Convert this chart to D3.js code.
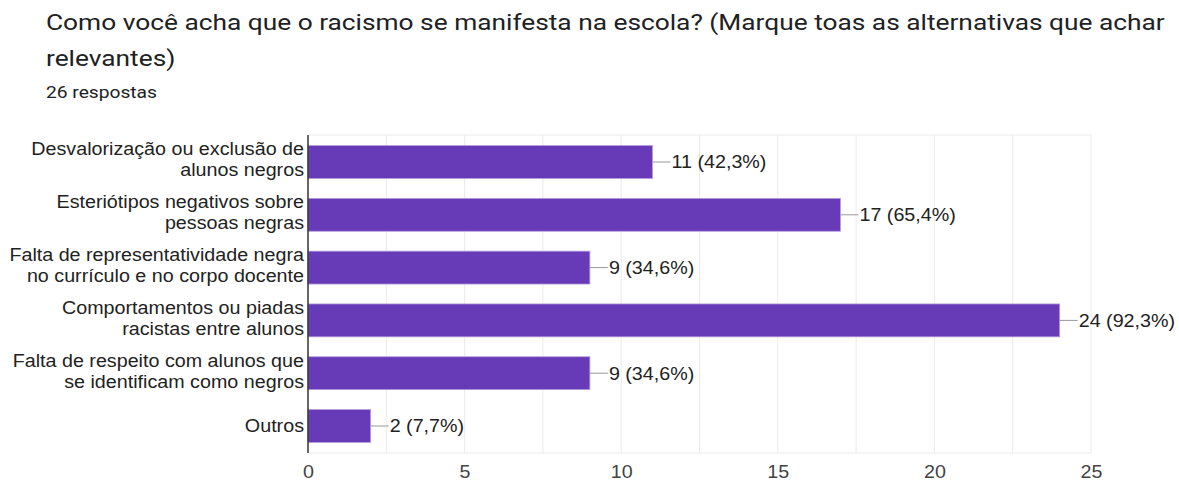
<!DOCTYPE html>
<html>
<head>
<meta charset="utf-8">
<script src="https://d3js.org/d3.v7.min.js"></script>
<style>
  body { margin: 0; background: #fff; }
  text { font-family: "Liberation Sans", Arial, sans-serif; }
</style>
</head>
<body>
<script>
// chart data
const categories = [
  ["Desvalorização ou exclusão de", "alunos negros"],
  ["Esteriótipos negativos sobre", "pessoas negras"],
  ["Falta de representatividade negra", "no currículo e no corpo docente"],
  ["Comportamentos ou piadas", "racistas entre alunos"],
  ["Falta de respeito com alunos que", "se identificam como negros"],
  ["Outros"]
];
const counts = [11, 17, 9, 24, 9, 2];
const percents = ["42,3%", "65,4%", "34,6%", "92,3%", "34,6%", "7,7%"];
const xTicks = [0, 5, 10, 15, 20, 25];
const gridTicks = [2.5, 5, 7.5, 10, 12.5, 15, 17.5, 20, 22.5, 25];

const width = 1179, height = 481;
const svg = d3.select("body").append("svg")
  .attr("width", width)
  .attr("height", height);

// the screenshot is a bit stretched sideways, so text gets a small x-scale
const sx = 1.065;
const fs = "18.5px";

// title
const title = svg.append("text")
  .attr("transform", "translate(46,0) scale(1.195,1)")
  .style("font-family", "Roboto, sans-serif")
  .style("font-size", "22px")
  .attr("fill", "#202124");
title.append("tspan").attr("x", 0).attr("y", 30)
  .text("Como você acha que o racismo se manifesta na escola? (Marque toas as alternativas que achar");
title.append("tspan").attr("x", 0).attr("y", 66)
  .text("relevantes)");

svg.append("text")
  .attr("transform", "translate(46,98) scale(1.2,1)")
  .style("font-family", "Roboto, sans-serif")
  .style("font-size", "16px")
  .attr("fill", "#202124")
  .text("26 respostas");

// scales
const pLeft = 308, pRight = 1091, pTop = 135, pBottom = 453;
const x = d3.scaleLinear().domain([0, 25]).range([pLeft, pRight]);
const y = d3.scaleBand()
  .domain(d3.range(categories.length))
  .range([pTop, pBottom])
  .paddingInner(0.377)
  .paddingOuter(0.2);

// grid
svg.append("g").selectAll("line")
  .data(gridTicks)
  .join("line")
    .attr("x1", d => x(d)).attr("x2", d => x(d))
    .attr("y1", pTop).attr("y2", pBottom)
    .attr("stroke", "#ebebeb")
    .attr("stroke-width", 1);
svg.append("line")
  .attr("x1", pLeft).attr("x2", pRight)
  .attr("y1", pTop).attr("y2", pTop)
  .attr("stroke", "#ebebeb");
svg.append("line")
  .attr("x1", pLeft).attr("x2", pRight)
  .attr("y1", pBottom).attr("y2", pBottom)
  .attr("stroke", "#ebebeb");

// bars
svg.append("g").selectAll("rect")
  .data(counts)
  .join("rect")
    .attr("x", x(0))
    .attr("y", (d, i) => y(i))
    .attr("width", d => x(d) - x(0))
    .attr("height", y.bandwidth())
    .attr("fill", "#673ab7")
    .attr("stroke", "#b39ddb")
    .attr("stroke-width", 0.8);

// leader lines + value labels
const lab = svg.append("g").selectAll("g")
  .data(counts)
  .join("g")
    .attr("transform", (d, i) => `translate(${x(d)},${y(i) + y.bandwidth() / 2})`);
lab.append("line")
  .attr("x1", 0).attr("x2", 18)
  .attr("stroke", "#999")
  .attr("stroke-width", 1);
lab.append("text")
  .attr("transform", `translate(19,0) scale(${sx},1)`)
  .attr("dy", "0.35em")
  .style("font-size", fs)
  .attr("fill", "#222")
  .text((d, i) => d + " (" + percents[i] + ")");

// y axis line
svg.append("line")
  .attr("x1", pLeft).attr("x2", pLeft)
  .attr("y1", pTop).attr("y2", pBottom)
  .attr("stroke", "#333")
  .attr("stroke-width", 1.5);

// category labels
const cat = svg.append("g").selectAll("text")
  .data(categories)
  .join("text")
    .attr("transform", `translate(304,0) scale(${sx},1)`)
    .attr("text-anchor", "end")
    .style("font-size", fs)
    .attr("fill", "#222");
cat.each(function(lines, i) {
  const c = y(i) + y.bandwidth() / 2;
  const lh = 21;
  const y0 = lines.length > 1 ? c - 13 : c;
  d3.select(this).selectAll("tspan")
    .data(lines)
    .join("tspan")
      .attr("x", 0)
      .attr("y", (d, j) => y0 + j * lh)
      .attr("dy", "0.35em")
      .text(d => d);
});

// x axis
const xAxis = svg.append("g")
  .attr("transform", `translate(0,${pBottom})`)
  .call(d3.axisBottom(x).tickValues(xTicks).tickSize(0).tickPadding(12));
xAxis.select(".domain").remove();
xAxis.selectAll("text")
  .attr("transform", `scale(${sx},1)`)
  .style("font-size", fs)
  .style("font-family", "'Liberation Sans', Arial, sans-serif")
  .attr("fill", "#444");
</script>
</body>
</html>
